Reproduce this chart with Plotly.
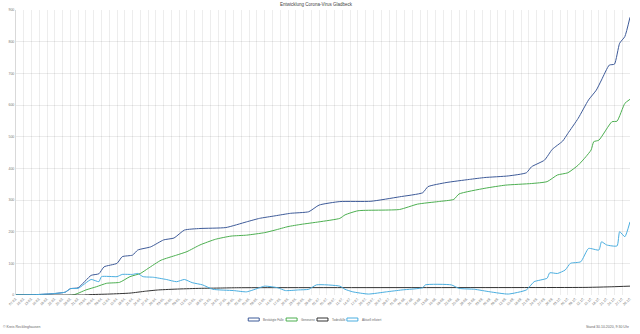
import plotly.graph_objects as go

title_text = "Entwicklung Corona-Virus Gladbeck"
series_names = ["Bestätigte Fälle", "Genesene", "Todesfälle", "Aktuell infiziert"]
series_colors = ["#3d5a98", "#4caf50", "#333333", "#4aaee0"]

conf_dates = ["2020-03-07","2020-03-14","2020-03-21","2020-03-26","2020-03-28","2020-03-31","2020-04-05","2020-04-08","2020-04-10","2020-04-15","2020-04-17","2020-04-21","2020-04-23","2020-04-28","2020-05-03","2020-05-07","2020-05-11","2020-05-17","2020-05-27","2020-06-04","2020-06-09","2020-06-15","2020-06-21","2020-06-28","2020-07-02","2020-07-10","2020-07-22","2020-08-02","2020-08-11","2020-08-13","2020-08-20","2020-08-29","2020-09-04","2020-09-13","2020-09-20","2020-09-22","2020-09-27","2020-09-30","2020-10-04","2020-10-06","2020-10-10","2020-10-14","2020-10-17","2020-10-19","2020-10-22","2020-10-24","2020-10-26","2020-10-28","2020-10-30"]
conf_vals = [0,1,4,9,20,23,62,67,89,100,121,126,142,152,174,180,205,210,213,231,242,250,258,263,284,295,296,310,323,342,355,365,371,376,386,405,426,460,486,510,558,616,647,679,726,729,795,816,877]

rec_dates = ["2020-03-07","2020-03-29","2020-04-03","2020-04-07","2020-04-11","2020-04-16","2020-04-20","2020-04-24","2020-04-27","2020-05-02","2020-05-08","2020-05-12","2020-05-17","2020-05-23","2020-05-29","2020-06-04","2020-06-11","2020-06-15","2020-06-20","2020-06-25","2020-07-02","2020-07-10","2020-07-12","2020-07-17","2020-08-02","2020-08-09","2020-08-17","2020-08-23","2020-08-25","2020-09-04","2020-09-12","2020-09-22","2020-09-28","2020-10-02","2020-10-06","2020-10-10","2020-10-13","2020-10-15","2020-10-16","2020-10-18","2020-10-23","2020-10-25","2020-10-28","2020-10-30"]
rec_vals = [0,0,16,26,37,40,58,68,84,110,126,137,158,176,186,189,197,205,216,223,231,242,253,266,270,287,295,302,319,337,347,352,358,379,386,410,437,458,484,489,547,549,605,618]

death_dates = ["2020-03-07","2020-04-02","2020-04-04","2020-04-12","2020-04-20","2020-04-26","2020-05-01","2020-05-09","2020-05-17","2020-05-25","2020-06-01","2020-10-13","2020-10-23","2020-10-30"]
death_vals = [0,0,1,3,6,12,16,19,21,22,23,24,26,28]

act_dates = ["2020-03-07","2020-03-14","2020-03-21","2020-03-26","2020-03-28","2020-03-31","2020-04-05","2020-04-08","2020-04-09","2020-04-15","2020-04-17","2020-04-21","2020-04-23","2020-04-25","2020-04-29","2020-05-04","2020-05-08","2020-05-11","2020-05-14","2020-05-18","2020-05-22","2020-05-30","2020-06-04","2020-06-09","2020-06-11","2020-06-16","2020-06-19","2020-06-24","2020-06-28","2020-07-01","2020-07-10","2020-07-12","2020-07-15","2020-07-21","2020-07-28","2020-08-03","2020-08-11","2020-08-12","2020-08-22","2020-08-25","2020-08-31","2020-09-06","2020-09-13","2020-09-20","2020-09-23","2020-09-28","2020-09-29","2020-10-02","2020-10-05","2020-10-07","2020-10-11","2020-10-14","2020-10-18","2020-10-19","2020-10-21","2020-10-25","2020-10-26","2020-10-28","2020-10-30"]
act_vals = [0,1,4,9,20,21,49,42,58,58,65,65,68,58,56,49,42,49,39,32,18,14,10,23,28,23,14,16,18,32,28,18,10,3,10,16,23,32,32,21,18,10,3,16,42,53,70,68,79,100,105,147,142,168,158,155,200,184,231]

y_ticks = [0, 100, 200, 300, 400, 500, 600, 700, 800, 900]
footer_left = "© Kreis Recklinghausen"
footer_right = "Stand 30.10.2020, 9:30 Uhr"

all_series = [(conf_dates, conf_vals), (rec_dates, rec_vals), (death_dates, death_vals), (act_dates, act_vals)]

fig = go.Figure()
for (xs, ys), name, col in zip(all_series, series_names, series_colors):
    fig.add_trace(go.Scatter(x=xs, y=ys, name=name, mode="lines",
                             line=dict(color=col, width=1, shape="spline", smoothing=0.5),
                             showlegend=False))

fig.update_layout(
    width=640, height=334,
    margin=dict(l=16, r=8, t=10, b=39),
    paper_bgcolor="white", plot_bgcolor="white",
    font=dict(family="Liberation Sans, Arial, sans-serif", size=4, color="#666"),
    title=dict(text=title_text, x=(317 - 16) / 616, xref="paper", xanchor="center",
               y=1 - 4.7 / 334, yanchor="middle",
               font=dict(size=4.5, color="#444")),
    xaxis=dict(type="date", range=["2020-03-07", "2020-10-30"], tick0="2020-03-07",
               dtick=3 * 86400000, tickformat="%d.%m.", tickangle=-45,
               showgrid=True, gridcolor="rgba(0,0,0,0.07)", gridwidth=1,
               zeroline=False, showline=False, ticks="", tickfont=dict(size=3.5, color="#777")),
    yaxis=dict(range=[0, 900], tickvals=y_ticks, showgrid=True, gridcolor="rgba(0,0,0,0.08)",
               zeroline=False, showline=True, linecolor="rgba(0,0,0,0.15)", linewidth=1,
               ticks="", tickfont=dict(size=3.5, color="#777")),
)

# custom legend (Chart.js style boxes)
legend_box_x = [249, 287, 318, 348]
ly = 319.5
for bx, name, col in zip(legend_box_x, series_names, series_colors):
    fig.add_shape(type="rect", xref="paper", yref="paper",
                  x0=(bx - 16) / 616, x1=(bx + 11 - 16) / 616,
                  y0=(295 - ly - 1.5) / 285, y1=(295 - ly + 1.5) / 285,
                  line=dict(color=col, width=1), fillcolor="rgba(255,255,255,0)")
    fig.add_annotation(text=name, xref="paper", yref="paper",
                       x=(bx + 13 - 16) / 616, y=(295 - ly) / 285,
                       xanchor="left", yanchor="middle", showarrow=False,
                       font=dict(size=3, color="#666"))

fig.add_annotation(text=footer_left, xref="paper", yref="paper",
                   x=(1 - 16) / 616, y=(295 - 326.7) / 285, xanchor="left", yanchor="middle",
                   showarrow=False, font=dict(size=3.5, color="#666"))
fig.add_annotation(text=footer_right, xref="paper", yref="paper",
                   x=(634 - 16) / 616, y=(295 - 326.7) / 285, xanchor="right", yanchor="middle",
                   showarrow=False, font=dict(size=3.5, color="#666"))

fig.write_html("out.html")
